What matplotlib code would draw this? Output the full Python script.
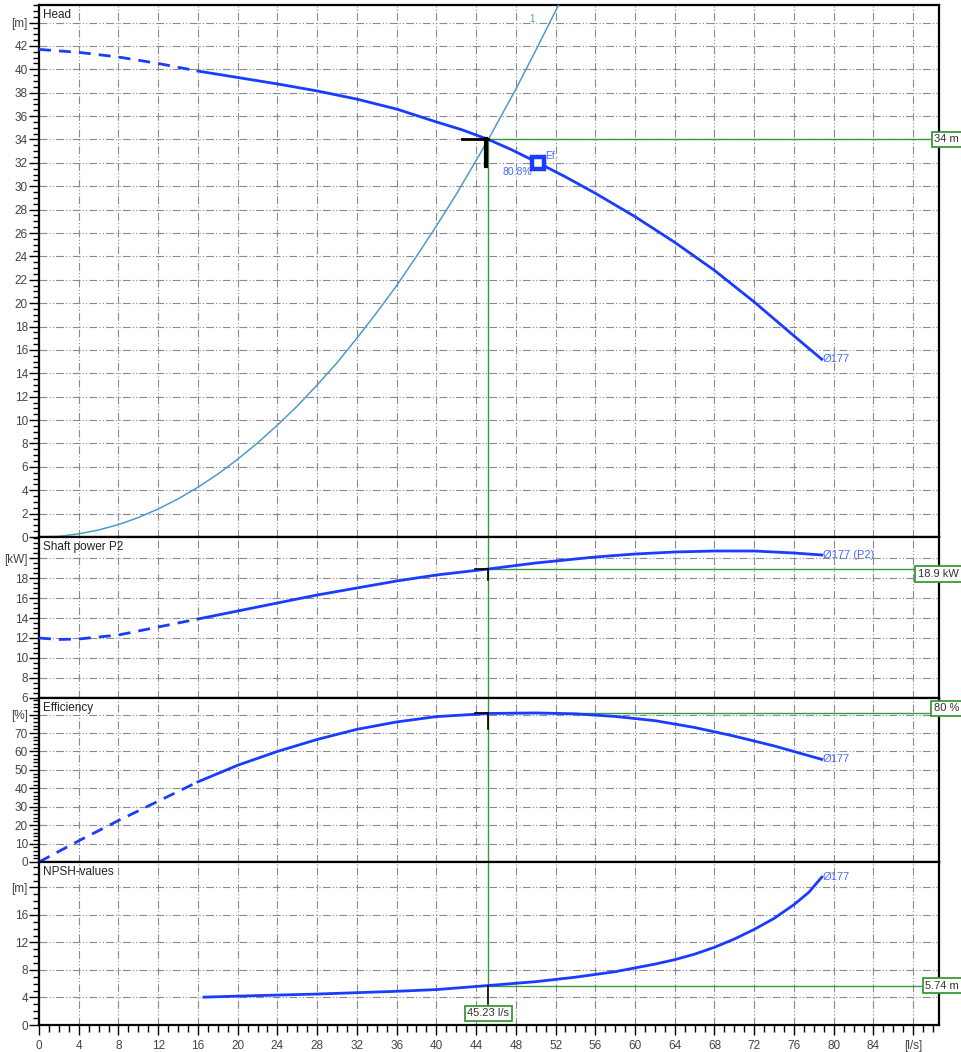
import numpy as np
import matplotlib
matplotlib.use('Agg')
import matplotlib.pyplot as plt
from matplotlib.ticker import MultipleLocator
from matplotlib.transforms import blended_transform_factory

plt.rcParams['font.family'] = ['Liberation Sans', 'DejaVu Sans']

# pump curves (flow in l/s)
q_head = [0, 4, 8, 12, 16, 20, 24, 28, 32, 36, 40, 42.5, 45.23, 47.5, 50.25, 53, 56, 60, 64, 68, 72, 76, 78.8]
head = [41.7, 41.45, 41.05, 40.5, 39.85, 39.3, 38.75, 38.15, 37.45, 36.6, 35.5, 34.85, 34.0, 33.15, 32.0, 30.8, 29.4, 27.4, 25.2, 22.8, 20.1, 17.2, 15.2]

q_sys = [0, 2, 4, 6, 8, 10, 12, 14, 16, 18, 20, 22, 24, 26, 28, 30, 32, 34, 36, 38, 40, 42, 44, 45.23, 46, 48, 50, 52.3]
h_sys = [0, 0.05, 0.27, 0.6, 1.06, 1.66, 2.4, 3.26, 4.25, 5.38, 6.65, 8.04, 9.57, 11.2, 13.0, 14.9, 17.0, 19.2, 21.5, 24.0, 26.6, 29.3, 32.2, 34.0, 35.2, 38.3, 41.6, 45.5]

q_pow = [0, 2, 4, 8, 12, 16, 20, 24, 28, 32, 36, 40, 45.23, 50, 56, 60, 64, 68, 72, 76, 78.8]
power = [12.0, 11.85, 11.9, 12.3, 13.1, 13.9, 14.7, 15.5, 16.3, 17.0, 17.7, 18.3, 18.9, 19.5, 20.1, 20.4, 20.6, 20.7, 20.7, 20.5, 20.3]

q_eff = [0, 4, 8, 12, 16, 20, 24, 28, 32, 36, 40, 45.23, 50, 54, 58, 62, 66, 70, 74, 78.8]
eff = [0, 11.5, 22.5, 33, 43.5, 52.5, 60, 66.5, 72, 76, 78.9, 80.6, 80.9, 80.4, 79.0, 76.7, 73.0, 68.3, 63.0, 55.7]

q_npsh = [16.6, 20, 24, 28, 32, 36, 40, 45.23, 50, 54, 58, 60, 62, 64, 66, 68, 70, 72, 74, 76, 77.5, 78.8]
npsh = [4.05, 4.2, 4.35, 4.5, 4.7, 4.9, 5.15, 5.74, 6.3, 6.95, 7.75, 8.3, 8.85, 9.5, 10.3, 11.3, 12.5, 13.9, 15.5, 17.5, 19.3, 21.5]

# duty point
op_q = 45.23
op_head = 34.0
op_pow = 18.9
op_eff = 80.6
op_npsh = 5.74
bep_q, bep_h = 50.25, 32.0

blue = '#1a3cff'
lblue = '#4a6bff'
sys_col = '#4d9bc8'
green = '#3a9a3a'
grid_col = '#8a8a8a'
dashed_to = 16

fig = plt.figure(figsize=(9.62, 10.52), dpi=100)
gs = fig.add_gridspec(4, 1, height_ratios=[532, 161, 164, 163], hspace=0,
                      left=39/962, right=939/962, top=1-5/1052, bottom=1-1025/1052)
axes = [fig.add_subplot(gs[i]) for i in range(4)]
ax_h, ax_p, ax_e, ax_n = axes

xmax = 90.6
xt = list(range(0, 89, 4))
xlab = [str(v) for v in xt[:-1]] + ['[l/s]']

panels = [
    (ax_h, (0, 45.5), list(range(0, 45, 2)), '[m]', 0.5, 'Head'),
    (ax_p, (6, 22.1), list(range(6, 21, 2)), '[kW]', 0.5, 'Shaft power P2'),
    (ax_e, (0, 89), list(range(0, 81, 10)), '[%]', 2, 'Efficiency'),
    (ax_n, (0, 23.7), list(range(0, 21, 4)), '[m]', 1, 'NPSH-values'),
]

for ax, ylim, yt, unit, minor, title in panels:
    ax.set_xlim(0, xmax)
    ax.set_ylim(*ylim)
    ax.set_xticks(xt)
    ax.xaxis.set_minor_locator(MultipleLocator(1))
    ax.set_yticks(yt)
    ax.set_yticklabels([str(v) for v in yt[:-1]] + [unit])
    ax.yaxis.set_minor_locator(MultipleLocator(minor))
    ax.grid(True, which='major', color=grid_col, lw=0.8, linestyle=(0, (7, 2, 1, 2, 1, 2)))
    ax.tick_params(axis='y', which='major', length=7, width=1, pad=1, labelsize=8.5, labelcolor='#444')
    ax.tick_params(axis='y', which='minor', length=4, width=1)
    for s in ax.spines.values():
        s.set_linewidth(1.6)
    ax.annotate(title, xy=(0, 1), xycoords='axes fraction', xytext=(3, -3),
                textcoords='offset points', va='top', ha='left', fontsize=8.5, color='#222')
    if ax is not ax_n:
        ax.tick_params(axis='x', which='both', length=0, labelbottom=False)

ax_n.set_xticklabels(xlab)
ax_n.tick_params(axis='x', which='major', length=7, width=1, labelsize=8.5, labelcolor='#444')
ax_n.tick_params(axis='x', which='minor', length=5, width=1)


def split_plot(ax, q, v):
    q = np.array(q)
    v = np.array(v)
    m1 = q <= dashed_to
    m2 = q >= dashed_to
    ax.plot(q[m1], v[m1], color=blue, lw=2.0, dashes=(4.3, 2.9), zorder=4)
    ax.plot(q[m2], v[m2], color=blue, lw=2.0, zorder=4, solid_joinstyle='round')


# Head panel
ax_h.plot(q_sys, h_sys, color=sys_col, lw=1.1, zorder=3)
ax_h.text(49.6, 44.3, '1', color=sys_col, fontsize=7, ha='center', va='center')
split_plot(ax_h, q_head, head)
ax_h.text(q_head[-1] + 0.1, head[-1], 'Ø177', color=lblue, fontsize=8, va='center')
ax_h.plot([op_q, op_q], [0, op_head], color=green, lw=1, zorder=2)
ax_h.plot([op_q, xmax], [op_head, op_head], color=green, lw=1, zorder=2)
ax_h.plot([42.6, op_q], [op_head, op_head], color='k', lw=2, zorder=5)
ax_h.plot([45.0, 45.0], [op_head, 31.7], color='k', lw=3, zorder=5)
ax_h.plot(bep_q, bep_h, marker='s', ms=9, mfc='white', mec=blue, mew=3.2, zorder=6)
ax_h.text(bep_q + 0.7, bep_h + 0.6, 'Ef.', color=lblue, fontsize=7.5, va='center')
ax_h.text(bep_q - 0.6, bep_h - 0.75, '80.8%', color=lblue, fontsize=7.5, va='center', ha='right')

# Power panel
split_plot(ax_p, q_pow, power)
ax_p.text(q_pow[-1] + 0.1, power[-1], 'Ø177 (P2)', color=lblue, fontsize=8, va='center')
ax_p.axvline(op_q, color=green, lw=1, zorder=2)
ax_p.plot([op_q, xmax], [op_pow, op_pow], color=green, lw=1, zorder=2)
ax_p.plot([43.9, op_q], [op_pow, op_pow], color='k', lw=1.2, zorder=5)
ax_p.plot([op_q, op_q], [op_pow, 17.8], color='k', lw=1.2, zorder=5)

# Efficiency panel
split_plot(ax_e, q_eff, eff)
ax_e.text(q_eff[-1] + 0.1, eff[-1], 'Ø177', color=lblue, fontsize=8, va='center')
ax_e.axvline(op_q, color=green, lw=1, zorder=2)
ax_e.plot([op_q, xmax], [op_eff, op_eff], color=green, lw=1, zorder=2)
ax_e.plot([43.9, op_q], [op_eff, op_eff], color='k', lw=1.2, zorder=5)
ax_e.plot([op_q, op_q], [op_eff, 72], color='k', lw=1.2, zorder=5)

# NPSH panel
ax_n.plot(q_npsh, npsh, color=blue, lw=2.0, zorder=4, solid_joinstyle='round')
ax_n.text(q_npsh[-1] + 0.1, npsh[-1], 'Ø177', color=lblue, fontsize=8, va='center')
ax_n.plot([op_q, op_q], [op_npsh, ax_n.get_ylim()[1]], color=green, lw=1, zorder=2)
ax_n.plot([op_q, op_q], [3.0, op_npsh], color='k', lw=1.2, zorder=5)
ax_n.plot([op_q, xmax], [op_npsh, op_npsh], color=green, lw=1, zorder=2)

box = dict(boxstyle='square,pad=0.25', fc='white', ec=green, lw=1.3)
ax_n.text(op_q, 1.7, '45.23 l/s', fontsize=8, color='#333', ha='center', va='center', bbox=box, zorder=7)

# value boxes on the right edge
right_labels = [
    (ax_h, op_head, '34 m', 'center'),
    (ax_p, op_pow, '18.9 kW', 'top'),
    (ax_e, op_eff, '80 %', 'bottom'),
    (ax_n, op_npsh, '5.74 m', 'center'),
]
for ax, yv, txt, va in right_labels:
    tr = blended_transform_factory(fig.transFigure, ax.transData)
    ax.text(0.997, yv, txt, transform=tr, fontsize=8, color='#333', ha='right', va=va,
            bbox=box, clip_on=False, zorder=8)

fig.savefig('out.png', dpi=100)
